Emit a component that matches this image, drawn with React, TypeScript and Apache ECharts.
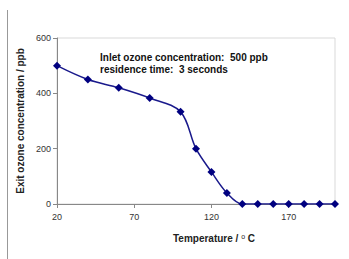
import React, { useEffect, useRef } from "react";
import * as echarts from "echarts";

const temperatures = [20, 40, 60, 80, 100, 110, 120, 130, 140, 150, 160, 170, 180, 190, 200];
const exitOzone = [500, 450, 420, 383, 333, 200, 116, 40, 0, 0, 0, 0, 0, 0, 0];
const annotationLines = ["Inlet ozone concentration:  500 ppb", "residence time:  3 seconds"];
const xAxisTitle = ["Temperature / ", "o", " C"];
const yAxisTitle = "Exit ozone concentration / ppb";

export default function App() {
  const ref = useRef<HTMLDivElement>(null);
  useEffect(() => {
    document.body.style.margin = "0";
    const chart = echarts.init(ref.current!, undefined, { renderer: "svg" });
    const font = "'Liberation Sans', Arial, sans-serif";
    chart.setOption({
      animation: false,
      backgroundColor: "#ffffff",
      grid: {
        left: 57,
        right: 14,
        top: 38,
        bottom: 55,
        show: true,
        borderColor: "#d9d9d9",
        borderWidth: 1,
      },
      xAxis: {
        type: "value",
        min: 20,
        max: 200,
        interval: 50,
        axisLine: { show: true, lineStyle: { color: "#888", width: 1 } },
        axisTick: { show: true, length: 4, lineStyle: { color: "#888" } },
        axisLabel: { showMaxLabel: false, fontFamily: font, fontSize: 9, color: "#333", margin: 8 },
        splitLine: { show: false },
      },
      yAxis: {
        type: "value",
        min: 0,
        max: 600,
        interval: 200,
        name: yAxisTitle,
        nameLocation: "middle",
        nameGap: 30,
        nameTextStyle: { fontFamily: font, fontWeight: "bold", fontSize: 10, color: "#222" },
        axisLine: { show: true, lineStyle: { color: "#888", width: 1 } },
        axisTick: { show: true, length: 4, lineStyle: { color: "#888" } },
        axisLabel: { fontFamily: font, fontSize: 9, color: "#333", margin: 6 },
        splitLine: { show: false },
      },
      graphic: [
        {
          type: "line",
          shape: { x1: 7.5, y1: 10, x2: 7.5, y2: 259 },
          style: { stroke: "#999", lineWidth: 1 },
        },
        {
          type: "text",
          left: 100,
          top: 51,
          style: {
            text: annotationLines.join("\n"),
            fontFamily: font,
            fontWeight: "bold",
            fontSize: 10,
            lineHeight: 12,
            fill: "#111",
          },
        },
        {
          type: "text",
          x: 214,
          y: 238,
          style: {
            text: `{a|${xAxisTitle[0]}}{s|${xAxisTitle[1]}}{a|${xAxisTitle[2]}}`,
            align: "center",
            verticalAlign: "middle",
            fill: "#222",
            rich: {
              a: { fontFamily: font, fontWeight: "bold", fontSize: 10, fill: "#222" },
              s: { fontFamily: font, fontSize: 7, fill: "#222", verticalAlign: "top", padding: [0, 0, 4, 0] },
            },
          },
        },
      ],
      series: [
        {
          type: "line",
          data: temperatures.map((t, i) => [t, exitOzone[i]]),
          smooth: 0.35,
          symbol: "diamond",
          symbolSize: 8,
          lineStyle: { color: "#1a1a8c", width: 1.5 },
          itemStyle: { color: "#000080" },
        },
      ],
    });
    return () => chart.dispose();
  }, []);
  return <div ref={ref} style={{ width: 349, height: 259 }} />;
}
